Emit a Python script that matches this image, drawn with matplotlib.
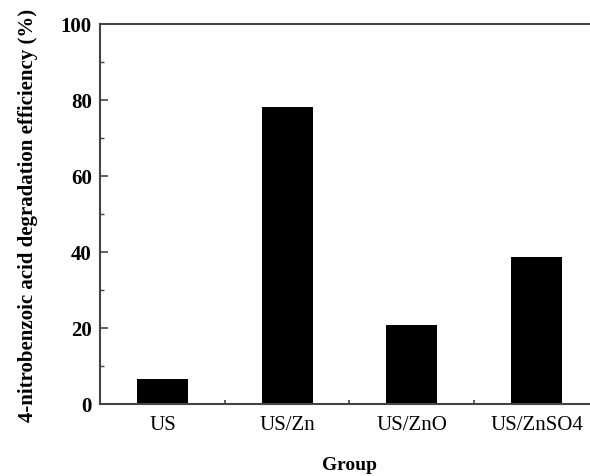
import matplotlib
matplotlib.use("Agg")
import matplotlib.pyplot as plt
from matplotlib.ticker import MultipleLocator, FixedLocator

categories = ["US", "US/Zn", "US/ZnO", "US/ZnSO4"]
values = [6.6, 78.2, 20.8, 38.7]

plt.rcParams['font.family'] = ['Liberation Serif', 'DejaVu Serif']

fig = plt.figure(figsize=(5.9, 4.77), dpi=100)
ax = fig.add_axes([100/590, 72/477, 499/590, 380/477])

x = range(len(categories))
ax.bar(x, values, width=0.41, color='black')
ax.set_xlim(-0.5, 3.5)
ax.set_ylim(0, 100)

ax.set_xticks(list(x))
ax.set_xticklabels(categories, fontsize=15)
ax.tick_params(axis='x', which='major', length=0, pad=8)
ax.xaxis.set_minor_locator(FixedLocator([0.5, 1.5, 2.5]))
ax.tick_params(axis='x', which='minor', direction='in', length=3, width=1.2, color='#444444')

ax.yaxis.set_major_locator(MultipleLocator(20))
ax.yaxis.set_minor_locator(MultipleLocator(10))
ax.tick_params(axis='y', which='major', direction='in', length=6, width=1.2, labelsize=15, color='#444444', pad=6)
ax.tick_params(axis='y', which='minor', direction='in', length=3, width=1.0, color='#444444')
for lab in ax.get_yticklabels():
    lab.set_fontweight('bold')

for s in ax.spines.values():
    s.set_linewidth(1.5)
    s.set_color('#444444')

ax.set_ylabel("4-nitrobenzoic acid degradation efficiency (%)", fontsize=15, fontweight='bold', labelpad=16)
ax.set_xlabel("Group", fontsize=14, fontweight='bold', labelpad=16)

fig.savefig("out.png", dpi=100)
